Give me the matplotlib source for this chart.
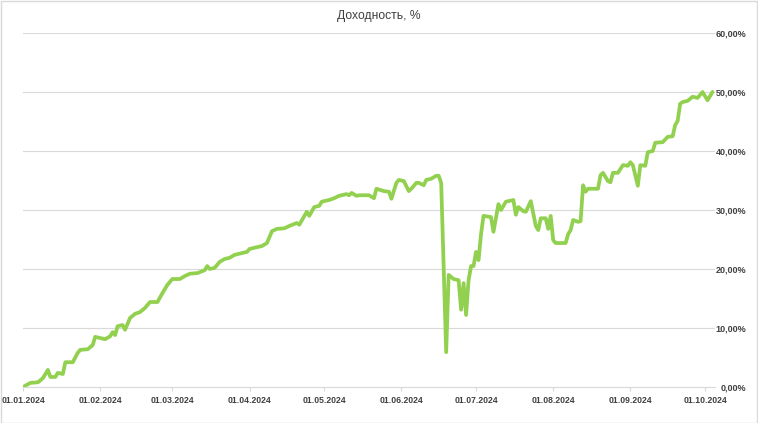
import matplotlib
matplotlib.use("Agg")
import matplotlib.pyplot as plt
import matplotlib.dates as mdates
import pandas as pd
from matplotlib.ticker import FuncFormatter, MultipleLocator

plt.rcParams['font.family'] = ['Liberation Sans', 'DejaVu Sans']

title = "Доходность, %"

dates = [
    "2024-01-01", "2024-01-04", "2024-01-07", "2024-01-09", "2024-01-11", "2024-01-12",
    "2024-01-14", "2024-01-15", "2024-01-17", "2024-01-18", "2024-01-21", "2024-01-23",
    "2024-01-24", "2024-01-27", "2024-01-29", "2024-01-30", "2024-02-03", "2024-02-05",
    "2024-02-06", "2024-02-07", "2024-02-08", "2024-02-10", "2024-02-11", "2024-02-13",
    "2024-02-15", "2024-02-17", "2024-02-19", "2024-02-21", "2024-02-24", "2024-02-26",
    "2024-02-28", "2024-03-01", "2024-03-04", "2024-03-06", "2024-03-08", "2024-03-11",
    "2024-03-14", "2024-03-15", "2024-03-16", "2024-03-18", "2024-03-20", "2024-03-22",
    "2024-03-24", "2024-03-26", "2024-03-29", "2024-03-31", "2024-04-01", "2024-04-04",
    "2024-04-06", "2024-04-08", "2024-04-10", "2024-04-12", "2024-04-15", "2024-04-17",
    "2024-04-20", "2024-04-21", "2024-04-24", "2024-04-25", "2024-04-27", "2024-04-29",
    "2024-04-30", "2024-05-03", "2024-05-05", "2024-05-07", "2024-05-10", "2024-05-11",
    "2024-05-12", "2024-05-14", "2024-05-15", "2024-05-19", "2024-05-21", "2024-05-22",
    "2024-05-25", "2024-05-27", "2024-05-28", "2024-05-30", "2024-05-31", "2024-06-02",
    "2024-06-04", "2024-06-05", "2024-06-07", "2024-06-08", "2024-06-10", "2024-06-11",
    "2024-06-13", "2024-06-15", "2024-06-16", "2024-06-17", "2024-06-19", "2024-06-20",
    "2024-06-22", "2024-06-24", "2024-06-25", "2024-06-26", "2024-06-27", "2024-06-28",
    "2024-06-29", "2024-06-30", "2024-07-01", "2024-07-02", "2024-07-03", "2024-07-04",
    "2024-07-07", "2024-07-08", "2024-07-10", "2024-07-11", "2024-07-13", "2024-07-16",
    "2024-07-17", "2024-07-18", "2024-07-20", "2024-07-21", "2024-07-23", "2024-07-25",
    "2024-07-26", "2024-07-27", "2024-07-29", "2024-07-30", "2024-07-31", "2024-08-01",
    "2024-08-02", "2024-08-06", "2024-08-07", "2024-08-08", "2024-08-09", "2024-08-11",
    "2024-08-12", "2024-08-13", "2024-08-14", "2024-08-15", "2024-08-19", "2024-08-20",
    "2024-08-21", "2024-08-23", "2024-08-24", "2024-08-25", "2024-08-27", "2024-08-29",
    "2024-08-31", "2024-09-01", "2024-09-02", "2024-09-04", "2024-09-05", "2024-09-07",
    "2024-09-08", "2024-09-10", "2024-09-11", "2024-09-14", "2024-09-16", "2024-09-18",
    "2024-09-19", "2024-09-20", "2024-09-21", "2024-09-22", "2024-09-24", "2024-09-26",
    "2024-09-28", "2024-09-29", "2024-09-30", "2024-10-02", "2024-10-04",
]

returns_pct = [
    0.0, 0.7, 0.8, 1.5, 2.9, 1.7,
    1.7, 2.4, 2.2, 4.2, 4.2, 5.8,
    6.3, 6.4, 7.1, 8.5, 8.1, 8.6,
    9.3, 8.8, 10.3, 10.5, 9.7, 11.7,
    12.4, 12.7, 13.4, 14.4, 14.4, 15.9,
    17.3, 18.3, 18.3, 18.8, 19.2, 19.3,
    19.8, 20.5, 20.0, 20.2, 21.2, 21.7,
    21.9, 22.4, 22.7, 22.9, 23.4, 23.7,
    23.9, 24.4, 26.4, 26.8, 26.9, 27.3,
    27.8, 27.5, 29.7, 29.0, 30.5, 30.7,
    31.4, 31.7, 32.0, 32.4, 32.7, 32.5,
    32.9, 32.4, 32.5, 32.5, 32.0, 33.6,
    33.2, 33.1, 31.9, 34.6, 35.1, 34.9,
    33.2, 33.6, 34.6, 34.6, 34.2, 35.1,
    35.3, 35.8, 35.8, 34.6, 5.9, 19.0,
    18.3, 18.1, 13.1, 17.6, 12.2, 18.1,
    20.5, 20.5, 22.9, 21.5, 25.9, 29.0,
    28.8, 26.3, 31.0, 30.0, 31.4, 31.7,
    29.2, 30.5, 29.8, 29.7, 31.5, 27.3,
    26.6, 28.6, 28.6, 26.8, 29.0, 24.9,
    24.4, 24.4, 25.9, 26.6, 28.3, 28.0,
    28.1, 34.2, 33.1, 33.6, 33.6, 35.9,
    36.3, 34.9, 34.7, 36.3, 36.3, 37.6,
    37.5, 38.1, 37.6, 34.1, 37.6, 37.5,
    39.8, 40.0, 41.4, 41.5, 42.4, 42.5,
    44.4, 45.1, 48.0, 48.3, 48.5, 49.2,
    49.0, 49.5, 50.0, 48.6, 50.0,
]

x_ticks = ["2024-01-01", "2024-02-01", "2024-03-01", "2024-04-01", "2024-05-01",
           "2024-06-01", "2024-07-01", "2024-08-01", "2024-09-01", "2024-10-01"]

x = pd.to_datetime(dates)
y = [v / 100 for v in returns_pct]

fig = plt.figure(figsize=(7.58, 4.23), dpi=100)
fig.patch.set_facecolor("white")
ax = fig.add_axes([23 / 758, 1 - 387 / 423, (715 - 23) / 758, (387 - 33) / 423])

ax.plot(x, y, color="#92D050", linewidth=2.7, solid_joinstyle="round", solid_capstyle="round", zorder=3)

ax.set_ylim(0, 0.6)
ax.set_xlim(pd.Timestamp("2024-01-01"), pd.Timestamp("2024-10-05"))
ax.yaxis.set_major_locator(MultipleLocator(0.1))
ax.yaxis.set_major_formatter(FuncFormatter(lambda v, p: f"{v*100:.2f}%".replace(".", ",")))
ax.yaxis.tick_right()
ax.tick_params(axis="y", length=0, pad=22.5, labelsize=6.5, labelcolor="#404040")
for lab in ax.get_yticklabels():
    lab.set_horizontalalignment("right")
    lab.set_fontweight("bold")

ax.set_xticks(pd.to_datetime(x_ticks))
ax.xaxis.set_major_formatter(mdates.DateFormatter("%d.%m.%Y"))
ax.tick_params(axis="x", length=3, width=0.8, color="#D9D9D9", labelsize=6.2,
               labelcolor="#404040", pad=3.5)
for lab in ax.get_xticklabels():
    lab.set_fontweight("bold")

ax.grid(axis="y", color="#D9D9D9", linewidth=0.8)
ax.set_axisbelow(True)
for s in ["top", "left", "right"]:
    ax.spines[s].set_visible(False)
ax.spines["bottom"].set_color("#D9D9D9")
ax.spines["bottom"].set_linewidth(0.8)

fig.text(379 / 758, 1 - 16 / 423, title, ha="center", va="center", fontsize=8.7, color="#404040")

border = plt.Rectangle((0.001, 0.001), 0.998, 0.997, transform=fig.transFigure,
                       fill=False, edgecolor="#D9D9D9", linewidth=1)
fig.patches.append(border)

fig.savefig("out.png", dpi=100)
